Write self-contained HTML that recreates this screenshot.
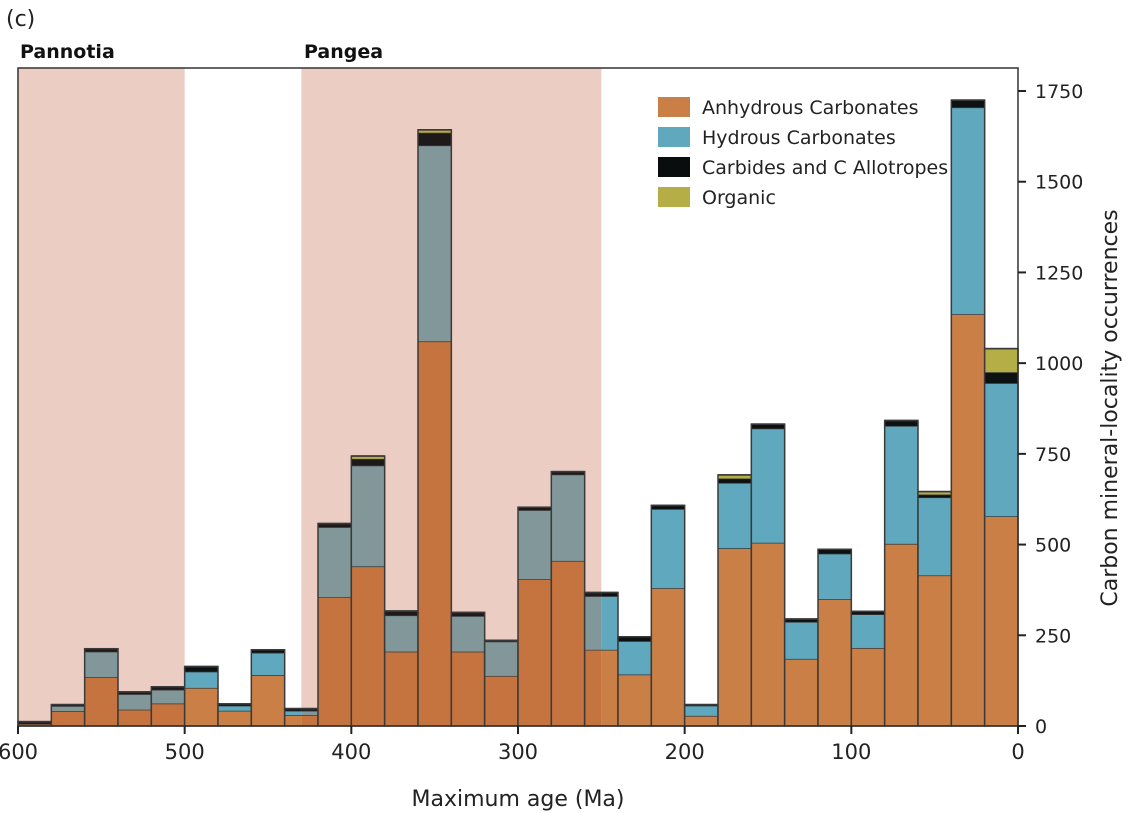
<!DOCTYPE html>
<html><head><meta charset="utf-8"><style>
body{margin:0;background:#fff;}
svg{display:block;font-family:"DejaVu Sans","Liberation Sans",sans-serif;}
</style></head><body>
<svg id="chart" width="1126" height="813" viewBox="0 0 1126 813">
<text x="6" y="26" font-size="22" fill="#222">(c)</text>
<g id="shades"></g>
<g id="bars"></g>
<g id="frame"></g>
<text x="20" y="58" font-size="19" font-weight="bold" fill="#111">Pannotia</text>
<text x="304" y="58" font-size="19" font-weight="bold" fill="#111">Pangea</text>
<g>
<rect x="658" y="97" width="32" height="20" fill="#c97f45"/>
<text x="702" y="114" font-size="19" fill="#222">Anhydrous Carbonates</text>
<rect x="658" y="127" width="32" height="20" fill="#5fa8bd"/>
<text x="702" y="144" font-size="19" fill="#222">Hydrous Carbonates</text>
<rect x="658" y="157" width="32" height="20" fill="#0a0d0e"/>
<text x="702" y="174" font-size="19" fill="#222">Carbides and C Allotropes</text>
<rect x="658" y="187" width="32" height="20" fill="#b5ad45"/>
<text x="702" y="204" font-size="19" fill="#222">Organic</text>
</g>
<text x="518" y="806" font-size="22" text-anchor="middle" fill="#222">Maximum age (Ma)</text>
<text transform="translate(1117,408) rotate(-90)" font-size="22" text-anchor="middle" fill="#222">Carbon mineral-locality occurrences</text>
</svg>
<script>
const binStarts=[600,580,560,540,520,500,480,460,440,420,400,380,360,340,320,300,280,260,240,220,200,180,160,140,120,100,80,60,40,20];
const anhydrous=[6,41,135,45,62,105,42,140,30,355,440,205,1060,205,138,405,455,210,142,380,28,490,505,185,350,215,502,415,1135,578];
const hydrous=[0,14,70,43,38,45,14,62,12,193,278,100,540,98,95,190,238,148,92,218,28,180,315,102,125,93,325,215,570,367];
const carbides=[6,4,8,6,8,14,5,8,6,10,18,12,35,10,3,8,8,10,12,10,3,12,12,8,12,8,15,8,20,30];
const organic=[0,0,0,0,0,0,0,0,0,0,8,0,8,0,0,0,0,0,0,0,0,10,0,0,0,0,0,8,0,65];
const xTicks=[600,500,400,300,200,100,0];
const yTicks=[0,250,500,750,1000,1250,1500,1750];
const shadeRanges=[[600,500],[430,250]];
const binWidth=20;

const NS="http://www.w3.org/2000/svg";
const X0=18,X1=1018,Y0=726,Y1=91,TOP=68;
const xs=ma=>X0+(600-ma)*(X1-X0)/600;
const ys=v=>Y0-v*(Y0-Y1)/1750;
function mk(tag,attrs,parent){const e=document.createElementNS(NS,tag);for(const k in attrs)e.setAttribute(k,attrs[k]);parent.appendChild(e);return e;}
const bars=document.getElementById('bars'),shades=document.getElementById('shades'),frame=document.getElementById('frame');

shadeRanges.forEach(r=>{
  const s=mk('rect',{x:xs(r[0]),y:TOP,width:xs(r[1])-xs(r[0]),height:Y0-TOP,fill:'#ebcdc3'},shades);
  
  
});
function inShade(a,b){return shadeRanges.some(r=>a<=r[0]&&b>=r[1]);}
const series=[[anhydrous,'#c97f45','#c5733f','anhydrous'],[hydrous,'#5fa8bd','#82979a','hydrous'],[carbides,'#0e1112','#1e1a1a','carbides'],[organic,'#b5ad45','#b5ad45','organic']];
binStarts.forEach((b,i)=>{
  const xa=xs(b),xb=xs(b-binWidth);
  let base=0;
  series.forEach(s=>{
    const v=s[0][i];if(v<=0)return;
    let cuts=[b];shadeRanges.forEach(r=>r.forEach(c=>{if(c<b&&c>b-binWidth)cuts.push(c);}));cuts.push(b-binWidth);
    for(let k=0;k<cuts.length-1;k++){
      const sh=inShade(cuts[k],cuts[k+1]);
      const r=mk('rect',{x:xs(cuts[k]),y:ys(base+v),width:xs(cuts[k+1])-xs(cuts[k]),height:ys(base)-ys(base+v),fill:sh?s[2]:s[1]},bars);
      
      
    }
    mk('line',{x1:xa,x2:xb,y1:ys(base+v),y2:ys(base+v),stroke:'#3a3a3a','stroke-width':1.5},bars);
    base+=v;
  });
  const o=mk('rect',{x:xa,y:ys(base),width:xb-xa,height:Y0-ys(base),fill:'none',stroke:'#3a3a3a','stroke-width':1.5},bars);
  
  
});
mk('rect',{x:X0,y:TOP,width:X1-X0,height:Y0-TOP,fill:'none',stroke:'#333','stroke-width':1.5},frame);
xTicks.forEach(t=>{
  mk('line',{x1:xs(t),x2:xs(t),y1:Y0,y2:Y0+8,stroke:'#222','stroke-width':2},frame);
  const tx=mk('text',{x:xs(t),y:Y0+33,'font-size':21,'text-anchor':'middle',fill:'#222'},frame);
  tx.textContent=t;
  
  
});
yTicks.forEach(t=>{
  mk('line',{x1:X1,x2:X1+8,y1:ys(t),y2:ys(t),stroke:'#222','stroke-width':2},frame);
  const tx=mk('text',{x:1035,y:ys(t)+7,'font-size':19,fill:'#222'},frame);
  tx.textContent=t;
  
  
});
</script>
</body></html>
